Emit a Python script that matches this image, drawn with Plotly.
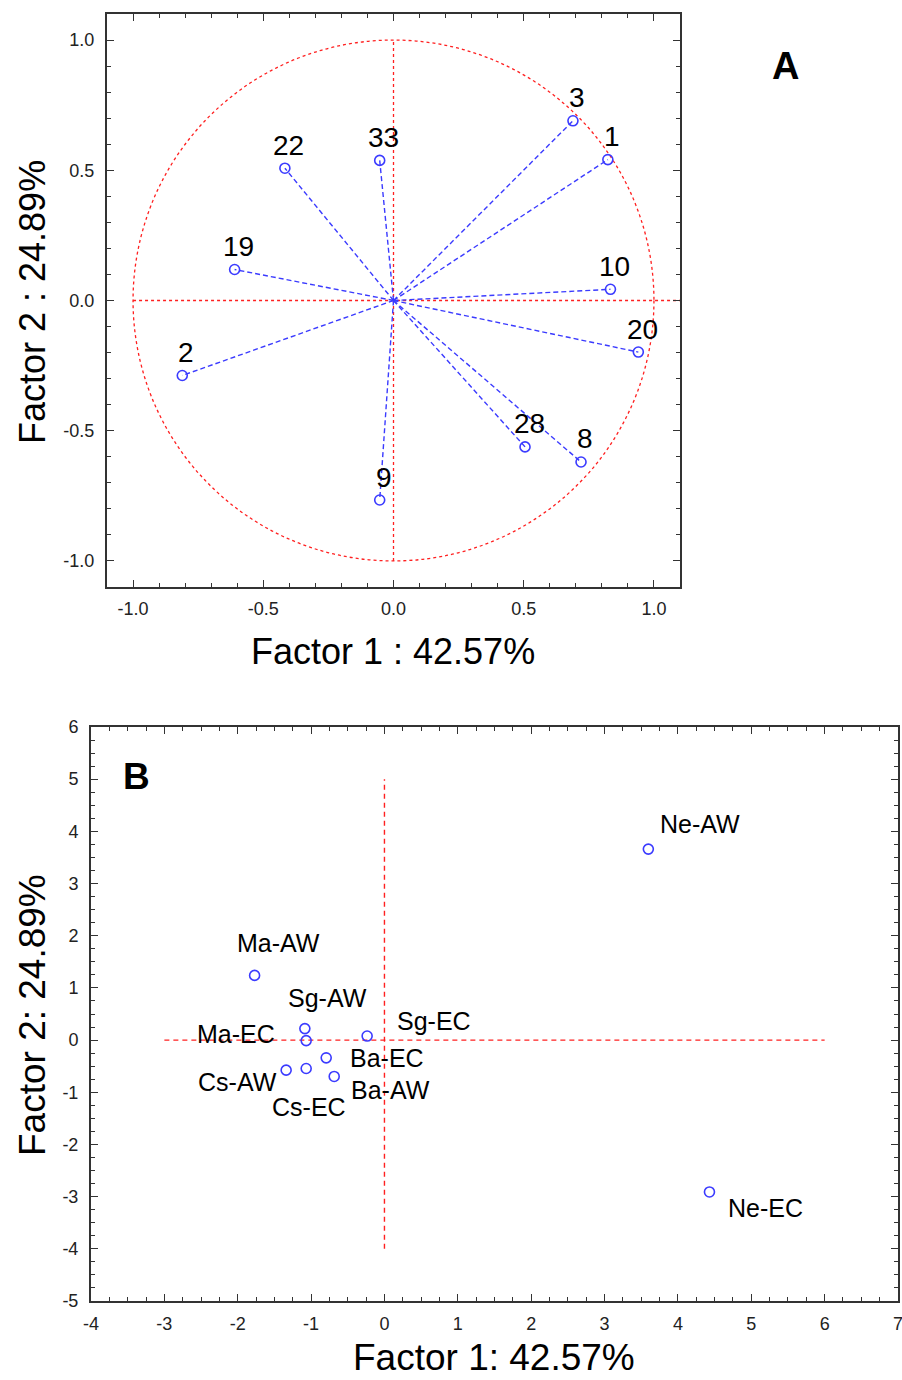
import plotly.graph_objects as go

# ---------------- DATA ----------------
# Panel A: factor loadings
var_names = ["3", "1", "10", "20", "28", "8", "9", "2", "19", "22", "33"]
load_f1 = [0.689, 0.823, 0.833, 0.940, 0.505, 0.720, -0.053, -0.811, -0.610, -0.417, -0.053]
load_f2 = [0.690, 0.541, 0.043, -0.198, -0.562, -0.620, -0.766, -0.288, 0.119, 0.508, 0.538]
a_tickvals = [-1.0, -0.5, 0.0, 0.5, 1.0]
a_ticktext = ["-1.0", "-0.5", "0.0", "0.5", "1.0"]

# Panel B: case scores
case_names = ["Ma-AW", "Sg-AW", "Ma-EC", "Sg-EC", "Ba-EC", "Ba-AW", "Cs-AW", "Cs-EC", "Ne-AW", "Ne-EC"]
score_f1 = [-1.77, -1.085, -1.067, -0.236, -0.794, -0.685, -1.34, -1.067, 3.597, 4.43]
score_f2 = [1.24, 0.22, -0.01, 0.077, -0.34, -0.697, -0.576, -0.544, 3.66, -2.91]
b_xtickvals = [-4, -3, -2, -1, 0, 1, 2, 3, 4, 5, 6, 7]
b_xticktext = ["-4", "-3", "-2", "-1", "0", "1", "2", "3", "4", "5", "6", "7"]
b_ytickvals = [-5, -4, -3, -2, -1, 0, 1, 2, 3, 4, 5, 6]
b_yticktext = ["-5", "-4", "-3", "-2", "-1", "0", "1", "2", "3", "4", "5", "6"]

# label offsets (pixels) for panel B labels
b_label_shift = {
    "Ma-AW": (24, 32), "Sg-AW": (23, 31), "Ma-EC": (-70, 7), "Sg-EC": (67, 15),
    "Ba-EC": (61, 0), "Ba-AW": (56, -14), "Cs-AW": (-49, -12), "Cs-EC": (3, -39),
    "Ne-AW": (52, 25), "Ne-EC": (56, -16),
}

# ---------------- STYLE ----------------
W, H = 902, 1380
FONT = "Liberation Sans, Arial, sans-serif"
BLUE = "#3b3bff"
RED = "#ff2020"
AXC = "#333333"

def px_x(p):
    return p / W

def px_y(p):
    return 1 - p / H

fig = go.Figure()

# Panel A vectors
for n, x, y in zip(var_names, load_f1, load_f2):
    fig.add_trace(go.Scatter(x=[0, x], y=[0, y], mode="lines",
                             line=dict(color=BLUE, width=1.4, dash="5px,3px"),
                             xaxis="x", yaxis="y", showlegend=False, hoverinfo="skip"))
fig.add_trace(go.Scatter(x=load_f1, y=load_f2, mode="markers",
                         marker=dict(symbol="circle-open", size=10, color=BLUE, line=dict(width=1.6)),
                         xaxis="x", yaxis="y", showlegend=False))

# Panel B points
fig.add_trace(go.Scatter(x=score_f1, y=score_f2, mode="markers",
                         marker=dict(symbol="circle-open", size=10, color=BLUE, line=dict(width=1.6)),
                         xaxis="x2", yaxis="y2", showlegend=False))

shapes = [
    dict(type="circle", xref="x", yref="y", x0=-1, y0=-1, x1=1, y1=1,
         line=dict(color=RED, width=1.3, dash="dot"), layer="below"),
    dict(type="line", xref="x", yref="y", x0=-1, y0=0, x1=1.1, y1=0,
         line=dict(color=RED, width=1.3, dash="dot"), layer="below"),
    dict(type="line", xref="x", yref="y", x0=0, y0=-1, x1=0, y1=1,
         line=dict(color=RED, width=1.3, dash="dot"), layer="below"),
    dict(type="line", xref="x2", yref="y2", x0=-3, y0=0, x1=6, y1=0,
         line=dict(color=RED, width=1.4, dash="5px,4px"), layer="below"),
    dict(type="line", xref="x2", yref="y2", x0=0, y0=-4, x1=0, y1=5,
         line=dict(color=RED, width=1.4, dash="5px,4px"), layer="below"),
]

annotations = []
for n, x, y in zip(var_names, load_f1, load_f2):
    annotations.append(dict(x=x, y=y, xref="x", yref="y", text=n, showarrow=False,
                            xanchor="center", yanchor="middle",
                            xshift=4, yshift=23, font=dict(family=FONT, size=28, color="black")))
for n, x, y in zip(case_names, score_f1, score_f2):
    dx, dy = b_label_shift[n]
    annotations.append(dict(x=x, y=y, xref="x2", yref="y2", text=n, showarrow=False,
                            xanchor="center", yanchor="middle",
                            xshift=dx, yshift=dy, font=dict(family=FONT, size=25, color="black")))

def paper_text(px, py, text, size, angle=0):
    return dict(x=px_x(px), y=px_y(py), xref="paper", yref="paper", text=text,
                showarrow=False, xanchor="center", yanchor="middle", textangle=angle,
                font=dict(family=FONT, size=size, color="black"))

# panel letters
annotations.append(paper_text(785, 66, "<b>A</b>", 38))
annotations.append(paper_text(136, 776, "<b>B</b>", 37))
# axis titles
annotations.append(paper_text(393, 651, "Factor 1 : 42.57%", 36))
annotations.append(paper_text(32, 302, "Factor 2 : 24.89%", 36, -90))
annotations.append(paper_text(494, 1357, "Factor 1: 42.57%", 37))
annotations.append(paper_text(32, 1015, "Factor 2: 24.89%", 37, -90))

def axis_common(rng, tv, tt, dtick_minor, domain, anchor, standoff):
    return dict(range=rng, domain=domain, anchor=anchor, tickmode="array", tickvals=tv, ticktext=tt,
                ticks="inside", ticklen=7, tickwidth=1.3, tickcolor=AXC,
                minor=dict(ticks="inside", dtick=dtick_minor, ticklen=4, tickwidth=1.2, tickcolor=AXC,
                           showgrid=False),
                showline=True, linecolor=AXC, linewidth=2, mirror="allticks",
                showgrid=False, zeroline=False, automargin=False, ticklabelstandoff=standoff,
                ticklabeloverflow="allow",
                tickfont=dict(family=FONT, size=18, color="#222222"))

fig.update_layout(
    width=W, height=H, margin=dict(l=0, r=0, t=0, b=0, autoexpand=False),
    paper_bgcolor="white", plot_bgcolor="white",
    xaxis=axis_common([-1.1, 1.1], a_tickvals, a_ticktext, 0.1, [px_x(107), px_x(680)], "y", 4),
    yaxis=axis_common([-1.1, 1.1], a_tickvals, a_ticktext, 0.1, [px_y(587), px_y(14)], "x", 7),
    xaxis2=axis_common([-4, 7], b_xtickvals, b_xticktext, 0.25, [px_x(91), px_x(898)], "y2", 5),
    yaxis2=axis_common([-5, 6], b_ytickvals, b_yticktext, 0.25, [px_y(1301), px_y(727)], "x2", 7),
    shapes=shapes, annotations=annotations,
)

fig.write_html("out.html", config={"displayModeBar": False},
               post_script="document.body.style.margin='0px';document.body.style.overflow='hidden';")
